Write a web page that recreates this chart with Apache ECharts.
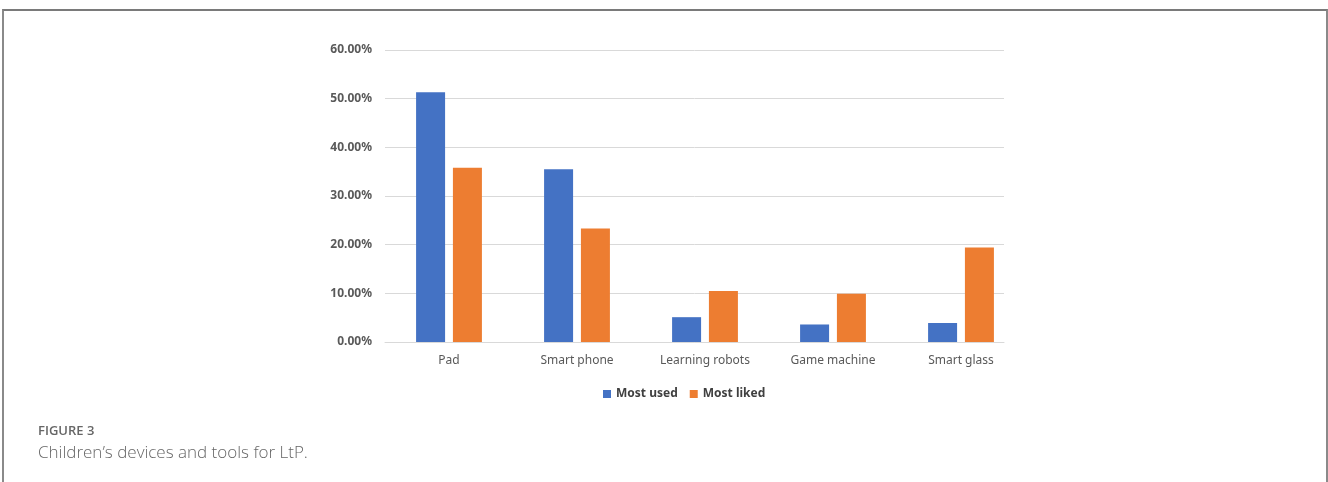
<!DOCTYPE html>
<html lang="en">
<head>
    <meta charset="UTF-8">
    <title>Figure 3</title>
    <script src="https://cdn.jsdelivr.net/npm/echarts@6/dist/echarts.min.js"></script>
    <style>
        html, body { margin: 0; padding: 0; background: #fff; }
        .frame {
            position: absolute; left: 2px; top: 9px; width: 1322px; height: 480px;
            border-top: 2px solid #7a7a7a; border-left: 2px solid #8a8a8a; border-right: 2px solid #8a8a8a;
        }
        #chart { position: absolute; left: 0; top: 0; width: 1328px; height: 482px; }
        .cap-label {
            position: absolute; left: 38px; top: 421px;
            font-family: "Open Sans", sans-serif; font-size: 13px; font-weight: 600; color: #666;
        }
        .cap-text {
            position: absolute; left: 38px; top: 440px;
            font-family: "Open Sans", sans-serif; font-size: 17px; font-weight: 300; color: #666;
        }
    </style>
</head>
<body>
<div class="frame"></div>
<div id="chart"></div>
<div class="cap-label">FIGURE 3</div>
<div class="cap-text">Children’s devices and tools for LtP.</div>
<script type="text/javascript">
    // data (percent)
    var categories = ['Pad', 'Smart phone', 'Learning robots', 'Game machine', 'Smart glass'];
    var mostUsed = [51.3, 35.5, 5.1, 3.6, 3.9];
    var mostLiked = [35.8, 23.3, 10.5, 9.9, 19.4];
    var yTicks = [0, 10, 20, 30, 40, 50, 60];

    var chart = echarts.init(document.getElementById('chart'));
    var font = '"Noto Sans", sans-serif';
    var yMin = yTicks[0], yMax = yTicks[yTicks.length - 1];

    // grid 0: gridlines + y labels, grid 1: bars + category labels
    var option = {
        animation: false,
        legend: {
            data: ['Most used', 'Most liked'],
            top: 383,
            left: 598,
            itemWidth: 8,
            itemHeight: 8,
            itemGap: 12,
            icon: 'rect',
            textStyle: { fontFamily: font, fontSize: 12, fontWeight: 'bold', color: '#404040' }
        },
        grid: [
            { left: 385, right: 324, top: 50, bottom: 140 },
            { left: 385, right: 303, top: 50, bottom: 140 }
        ],
        xAxis: [
            {
                gridIndex: 0, type: 'category', data: categories,
                axisLine: { lineStyle: { color: '#d9d9d9' } },
                axisTick: { show: false }, axisLabel: { show: false }
            },
            {
                gridIndex: 1, type: 'category', data: categories,
                axisLine: { show: false }, axisTick: { show: false },
                axisLabel: { margin: 13, fontFamily: font, fontSize: 12, color: '#595959' }
            }
        ],
        yAxis: [
            {
                gridIndex: 0, type: 'value', min: yMin, max: yMax, interval: 10,
                axisLine: { show: false }, axisTick: { show: false },
                splitLine: { lineStyle: { color: '#d9d9d9', width: 1 } },
                axisLabel: {
                    margin: 13, fontFamily: font, fontSize: 12, fontWeight: 'bold', color: '#595959',
                    formatter: function (v) { return v.toFixed(2) + '%'; }
                }
            },
            {
                gridIndex: 1, type: 'value', min: yMin, max: yMax, interval: 10,
                axisLine: { show: false }, axisTick: { show: false },
                splitLine: { show: false }, axisLabel: { show: false }
            }
        ],
        series: [
            {
                name: 'Most used', type: 'bar', data: mostUsed,
                xAxisIndex: 1, yAxisIndex: 1,
                barWidth: 29, barGap: '27%',
                itemStyle: { color: '#4472C4' }
            },
            {
                name: 'Most liked', type: 'bar', data: mostLiked,
                xAxisIndex: 1, yAxisIndex: 1,
                barWidth: 29,
                itemStyle: { color: '#ED7D31' }
            }
        ]
    };
    chart.setOption(option);
    window.onresize = function () { chart.resize(); };
</script>
</body>
</html>
